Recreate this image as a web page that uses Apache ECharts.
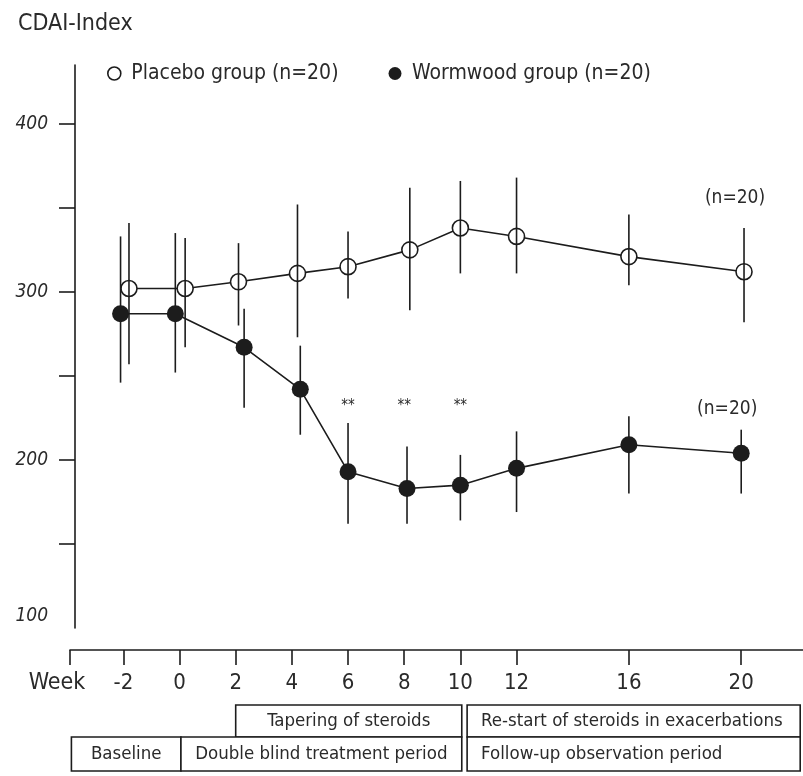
<!DOCTYPE html>
<html>
<head>
<meta charset="utf-8">
<script src="https://cdn.jsdelivr.net/npm/echarts@6/dist/echarts.min.js"></script>
<style>
  html, body { margin: 0; padding: 0; background: #fff; }
  #chart { width: 803px; height: 776px; }
</style>
</head>
<body>
<div id="chart"></div>
<script>
// CDAI-Index over time, mean with error bars
const placeboWeeks = [-1.8, 0.2, 2.1, 4.2, 6, 8.2, 10, 12, 16, 20.1]
const placeboMean = [302, 302, 306, 311, 315, 325, 338, 333, 321, 312]
const placeboHigh = [341, 332, 329, 352, 336, 362, 366, 368, 346, 338]
const placeboLow = [257, 267, 280, 273, 296, 289, 311, 311, 304, 282]

const wormWeeks = [-2.1, -0.15, 2.3, 4.3, 6, 8.1, 10, 12, 16, 20]
const wormMean = [287, 287, 267, 242, 193, 183, 185, 195, 209, 204]
const wormHigh = [333, 335, 290, 268, 222, 208, 203, 217, 226, 218]
const wormLow = [246, 252, 231, 215, 162, 162, 164, 169, 180, 180]

const xTickWeeks = [-3.9, -2, 0, 2, 4, 6, 8, 10, 12, 16, 20]
const yTickValues = [150, 200, 250, 300, 350, 400]
const yLabelValues = [100, 200, 300, 400]

const sigWeeks = [6, 8, 10]
const sigLevel = 232
const nLabelPoints = [[19.78, 356], [19.5, 230]]

// study phases (weeks)
const phaseLabels = ['Tapering of steroids', 'Re-start of steroids in exacerbations',
  'Baseline', 'Double blind treatment period', 'Follow-up observation period']
const phaseStart = [2, 10.24, -3.85, 0.05, 10.24]
const phaseEnd = [10.05, 22.1, 0.05, 10.05, 22.1]
const phaseRow = [0, 0, 1, 1, 1]
const phaseAlign = ['center', 'left', 'center', 'center', 'left']

const FONT = '"Liberation Sans Narrow", "DejaVu Sans Condensed", "Liberation Sans", sans-serif'
const INK = '#1c1c1c'
const TXT = '#2a2a2a'

const chart = echarts.init(document.getElementById('chart'))

function pairs(xs, ys) {
  return xs.map((x, i) => [x, ys[i]])
}

function errorSeries(name, xs, lo, hi) {
  return {
    name: name,
    type: 'custom',
    z: 4,
    silent: true,
    data: xs.map((x, i) => [x, lo[i], hi[i]]),
    renderItem: (params, api) => {
      const a = api.coord([api.value(0), api.value(1)])
      const b = api.coord([api.value(0), api.value(2)])
      return {
        type: 'line',
        shape: { x1: a[0], y1: a[1], x2: b[0], y2: b[1] },
        style: { stroke: INK, lineWidth: 1.6 }
      }
    }
  }
}

function textMarks(name, points, text, size) {
  return {
    name: name,
    type: 'scatter',
    symbolSize: 0,
    silent: true,
    itemStyle: { opacity: 1 },
    data: points,
    label: {
      show: true,
      position: 'inside',
      formatter: text,
      color: TXT,
      opacity: 1,
      textBorderWidth: 0,
      fontSize: size,
      fontFamily: FONT
    }
  }
}

function buildOption() {
  return {
    backgroundColor: '#fff',
    animation: false,
    title: {
      text: 'CDAI-Index',
      left: 13,
      top: 8,
      textStyle: { color: TXT, fontSize: 23, fontWeight: 'normal', fontFamily: FONT }
    },
    legend: {
      left: 102,
      top: 58,
      itemWidth: 24,
      itemHeight: 13,
      itemGap: 50,
      selectedMode: false,
      textStyle: { color: TXT, fontSize: 21, fontFamily: FONT },
      data: [
        { name: 'Placebo group (n=20)', icon: 'circle', itemStyle: { color: '#fff', borderColor: INK, borderWidth: 1.6 } },
        { name: 'Wormwood group (n=20)', icon: 'circle', itemStyle: { color: INK } }
      ]
    },
    grid: { left: 70, right: 0, top: 65, bottom: 148 },
    xAxis: {
      type: 'value',
      min: -3.9,
      max: 22.2,
      offset: 22,
      axisLine: { onZero: false, lineStyle: { color: INK, width: 1.6 } },
      axisTick: {
        customValues: xTickWeeks,
        length: 15,
        lineStyle: { color: INK, width: 1.6 }
      },
      axisLabel: {
        customValues: xTickWeeks,
        margin: 22,
        color: TXT,
        fontSize: 22,
        fontFamily: FONT,
        formatter: (v) => (v < -3 ? '{wk|Week}' : String(v)),
        rich: { wk: { fontSize: 23, fontFamily: FONT, color: TXT, padding: [0, 26, 0, 0] } }
      },
      splitLine: { show: false }
    },
    yAxis: {
      type: 'value',
      min: 100,
      max: 435,
      offset: -5,
      axisLine: { show: true, onZero: false, lineStyle: { color: INK, width: 1.6 } },
      axisTick: {
        show: true,
        customValues: yTickValues,
        length: 16,
        lineStyle: { color: INK, width: 1.6 }
      },
      axisLabel: {
        customValues: yLabelValues,
        margin: 27,
        color: TXT,
        fontSize: 19,
        fontStyle: 'italic',
        fontFamily: FONT,
        formatter: (v) => (v === 100 ? '{low|100}' : String(v)),
        rich: { low: { fontSize: 19, fontFamily: FONT, color: TXT, padding: [0, 0, 24, 0] } }
      },
      splitLine: { show: false }
    },
    series: [
      errorSeries('placeboErr', placeboWeeks, placeboLow, placeboHigh),
      errorSeries('wormErr', wormWeeks, wormLow, wormHigh),
      {
        name: 'Placebo group (n=20)',
        type: 'line',
        z: 3,
        data: pairs(placeboWeeks, placeboMean),
        symbol: 'circle',
        symbolSize: 16,
        lineStyle: { color: INK, width: 1.6 },
        itemStyle: { color: '#fff', borderColor: INK, borderWidth: 1.6 }
      },
      {
        name: 'Wormwood group (n=20)',
        type: 'line',
        z: 5,
        data: pairs(wormWeeks, wormMean),
        symbol: 'circle',
        symbolSize: 17,
        lineStyle: { color: INK, width: 1.6 },
        itemStyle: { color: INK }
      },
      textMarks('sig', sigWeeks.map((w) => [w, sigLevel]), '**', 15),
      textMarks('nLabels', nLabelPoints, '(n=20)', 19)
    ]
  }
}

function buildPhaseBoxes() {
  const rowTop = [705, 737]
  const rowH = [32, 34]
  const els = []
  phaseLabels.forEach((label, i) => {
    const x0 = chart.convertToPixel({ xAxisIndex: 0 }, phaseStart[i])
    const x1 = chart.convertToPixel({ xAxisIndex: 0 }, phaseEnd[i])
    const r = phaseRow[i]
    els.push({
      type: 'rect',
      shape: { x: x0, y: rowTop[r], width: x1 - x0, height: rowH[r] },
      style: { fill: '#fff', stroke: INK, lineWidth: 1.6 }
    })
    const left = phaseAlign[i] === 'left'
    els.push({
      type: 'text',
      x: left ? x0 + 14 : (x0 + x1) / 2,
      y: rowTop[r] + rowH[r] / 2,
      style: {
        text: label,
        fill: TXT,
        font: '18.5px ' + FONT,
        align: left ? 'left' : 'center',
        verticalAlign: 'middle'
      }
    })
  })
  return els
}

chart.setOption(buildOption())
chart.setOption({ graphic: buildPhaseBoxes() })
</script>
</body>
</html>
